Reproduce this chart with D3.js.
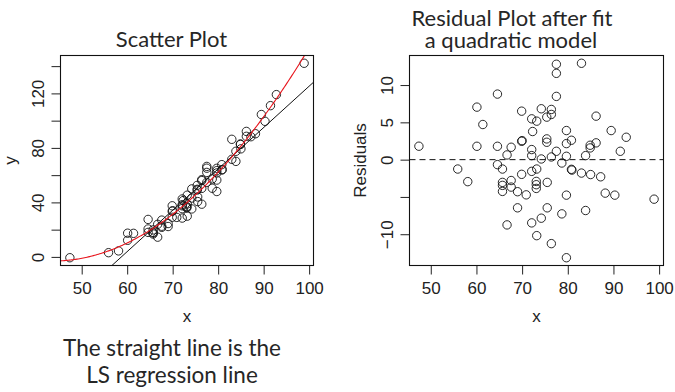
<!DOCTYPE html>
<html>
<head>
<meta charset="utf-8">
<script src="https://cdn.jsdelivr.net/npm/d3@7"></script>
<style>
  body { margin: 0; background: #fff; }
  .tick text { font-family: "Liberation Sans", Arial, sans-serif; fill: #222; }
  .tex { font-family: Lato, "Open Sans", sans-serif; fill: #262626; }
</style>
</head>
<body>
<div id="chart"></div>
<script>
// x values (shared by both panels)
const xVals = [47.4, 55.9, 58.1, 60.1, 60.1, 61.4, 64.6, 64.6, 64.6, 65.7,
               65.7, 65.7, 65.7, 66.7, 66.7, 67.6, 67.6, 67.6, 69.0, 69.0,
               69.9, 69.9, 70.0, 69.9, 70.9, 72.1, 72.3, 72.1, 72.1, 72.1,
               72.1, 73.2, 73.2, 73.1, 73.1, 73.1, 73.2, 74.2, 74.2, 74.2,
               75.4, 75.4, 75.4, 75.5, 75.5, 76.4, 76.4, 76.4, 76.4, 77.5,
               77.5, 77.5, 77.5, 78.7, 78.7, 79.7, 79.7, 79.7, 79.7, 79.7,
               80.8, 80.8, 80.9, 83.0, 83.0, 83.9, 83.9, 84.9, 84.9, 85.0,
               86.2, 86.2, 87.2, 88.2, 89.5, 90.3, 91.5, 92.8, 98.9];

// y values (scatter plot)
const yVals = [-0.6, 3.1, 4.4, 17.4, 12.2, 17.3, 27.5, 20.5, 18.0, 19.8,
               18.0, 17.6, 16.8, 23.9, 14.5, 27.0, 22.5, 21.7, 24.5, 22.3,
               37.5, 33.5, 33.9, 29.1, 29.0, 42.5, 41.3, 38.3, 37.5, 35.4,
               28.5, 45.3, 38.9, 36.9, 36.5, 36.0, 29.9, 49.9, 43.2, 35.2,
               52.5, 49.6, 49.1, 44.0, 40.6, 56.7, 56.0, 50.3, 38.7, 66.4,
               65.1, 62.0, 54.7, 57.2, 50.4, 65.0, 63.3, 61.6, 56.4, 48.0,
               67.7, 63.8, 64.1, 86.3, 71.6, 77.5, 70.1, 82.9, 82.5, 79.3,
               92.1, 88.5, 88.2, 90.4, 104.5, 99.5, 111.0, 119.1, 142.1];

// residuals after the quadratic fit
const residVals = [1.8, -1.26, -2.95, 7.04, 1.79, 4.71, 8.79, 1.79, -0.67, -1.26,
                   -3.05, -3.45, -4.26, 0.63, -8.75, 1.66, -2.8, -3.68, -4.3, -6.46,
                   6.5, 2.46, 2.55, -1.97, -4.72, 5.47, 3.77, 1.35, 0.54, -1.57,
                   -8.48, 5.16, -1.26, -2.92, -3.36, -3.86, -10.19, 6.82, 0.09, -7.85,
                   5.7, 2.78, 2.33, -3.05, -6.46, 6.73, 6.06, 0.36, -11.26, 12.79,
                   11.57, 8.48, 1.12, -0.45, -7.27, 3.9, 2.15, 0.45, -4.76, -13.15,
                   2.6, -1.3, -1.4, 12.92, -1.8, 0.54, -6.82, 1.93, 1.57, -2.0,
                   5.83, 2.25, -2.3, -4.49, 3.9, -4.76, 1.12, 3.0, -5.3];

const xTicks = [50, 60, 70, 80, 90, 100];
const yTicks = [0, 20, 40, 60, 80, 100, 120, 140];
const yTickLabels = [0, 40, 80, 120];
const rTicks = [-10, -5, 0, 5, 10];
const rTickLabels = [-10, 0, 5, 10];

const W = 675, H = 392;
const plotTop = 55.5, plotBottom = 265.5;
const leftBox = {x0: 60.5, x1: 313.5};
const rightBox = {x0: 409.5, x1: 663.5};

const svg = d3.select("#chart").append("svg")
    .attr("width", W)
    .attr("height", H);

// R style axis range: data extent padded by 4%
function pad(ext) {
    const d = (ext[1] - ext[0]) * 0.04;
    return [ext[0] - d, ext[1] + d];
}

const data = xVals.map((x, i) => ({x: x, y: yVals[i], r: residVals[i]}));

// least squares straight line
function lsLine(xs, ys) {
    const mx = d3.mean(xs), my = d3.mean(ys);
    const sxy = d3.sum(xs, (x, i) => (x - mx) * (ys[i] - my));
    const sxx = d3.sum(xs, x => (x - mx) * (x - mx));
    const b = sxy / sxx;
    return x => my + b * (x - mx);
}

// least squares quadratic, solved with gaussian elimination
function lsQuad(xs, ys) {
    const m = d3.mean(xs);
    const S = [0, 0, 0, 0, 0], T = [0, 0, 0];
    xs.forEach((x, i) => {
        const u = x - m;
        for (let k = 0; k < 5; k++) S[k] += Math.pow(u, k);
        for (let k = 0; k < 3; k++) T[k] += ys[i] * Math.pow(u, k);
    });
    const A = [[S[0], S[1], S[2], T[0]],
               [S[1], S[2], S[3], T[1]],
               [S[2], S[3], S[4], T[2]]];
    for (let c = 0; c < 3; c++) {
        for (let r = c + 1; r < 3; r++) {
            const f = A[r][c] / A[c][c];
            for (let k = c; k < 4; k++) A[r][k] -= f * A[c][k];
        }
    }
    const coef = [0, 0, 0];
    for (let r = 2; r >= 0; r--) {
        let s = A[r][3];
        for (let k = r + 1; k < 3; k++) s -= A[r][k] * coef[k];
        coef[r] = s / A[r][r];
    }
    return x => coef[0] + coef[1] * (x - m) + coef[2] * (x - m) * (x - m);
}

function drawAxes(g, x, y, box, yt, ytLabels, fmt) {
    const xa = g.append("g")
        .attr("transform", "translate(0," + plotBottom + ")")
        .call(d3.axisBottom(x).tickValues(xTicks).tickSize(9).tickPadding(7).tickSizeOuter(0));
    xa.select(".domain").remove();
    xa.selectAll("text").style("font-size", "17px");

    const ya = g.append("g")
        .attr("transform", "translate(" + box.x0 + ",0)")
        .call(d3.axisLeft(y).tickValues(yt).tickSize(9).tickSizeOuter(0)
            .tickFormat(d => ytLabels.indexOf(d) >= 0 ? fmt(d) : ""));
    ya.select(".domain").remove();
    ya.selectAll("text")
        .style("font-size", "17px")
        .attr("text-anchor", "middle")
        .attr("transform", "rotate(-90)")
        .attr("x", 0)
        .attr("y", -17)
        .attr("dy", 0);
    g.selectAll(".tick line").attr("stroke", "#222");

    g.append("rect")
        .attr("x", box.x0).attr("y", plotTop)
        .attr("width", box.x1 - box.x0).attr("height", plotBottom - plotTop)
        .attr("fill", "none").attr("stroke", "#111").attr("stroke-width", 1.1);
}

// two line text block as one element
function twoLines(g, cx, y0, gap, size, lines) {
    const t = g.append("text")
        .attr("class", "tex")
        .attr("text-anchor", "middle")
        .style("font-size", size);
    lines.forEach((s, i) => {
        t.append("tspan")
            .attr("x", cx[i])
            .attr("y", y0 + i * gap)
            .text(s);
    });
}

const fmtNum = d => d < 0 ? "\u2212" + Math.abs(d) : String(d);

// ---- left panel: scatter plot ----
const x1 = d3.scaleLinear().domain(pad(d3.extent(xVals))).range([leftBox.x0, leftBox.x1]);
const y1 = d3.scaleLinear().domain(pad(d3.extent(yVals))).range([plotBottom, plotTop]);

const left = svg.append("g");
left.append("clipPath").attr("id", "clipL").append("rect")
    .attr("x", leftBox.x0).attr("y", plotTop)
    .attr("width", leftBox.x1 - leftBox.x0).attr("height", plotBottom - plotTop);

left.selectAll("circle.pt")
    .data(data)
    .enter()
    .append("circle")
    .attr("class", "pt")
    .attr("cx", d => x1(d.x))
    .attr("cy", d => y1(d.y))
    .attr("r", 4.2)
    .attr("fill", "none")
    .attr("stroke", "#111")
    .attr("stroke-width", 0.9);

const lineFn = lsLine(xVals, yVals);
const quadFn = lsQuad(xVals, yVals);
const xs = d3.range(0, 201).map(i => x1.domain()[0] + i * (x1.domain()[1] - x1.domain()[0]) / 200);

left.append("path")
    .datum(x1.domain())
    .attr("clip-path", "url(#clipL)")
    .attr("d", d3.line().x(d => x1(d)).y(d => y1(lineFn(d))))
    .attr("fill", "none")
    .attr("stroke", "#111")
    .attr("stroke-width", 1);

left.append("path")
    .datum(xs)
    .attr("clip-path", "url(#clipL)")
    .attr("d", d3.line().x(d => x1(d)).y(d => y1(quadFn(d))))
    .attr("fill", "none")
    .attr("stroke", "#e8141c")
    .attr("stroke-width", 1.1);

drawAxes(left, x1, y1, leftBox, yTicks, yTickLabels, fmtNum);

left.append("text")
    .attr("class", "tex")
    .attr("x", 171.5).attr("y", 47.3)
    .attr("text-anchor", "middle")
    .style("font-size", "22px")
    .text("Scatter Plot");

left.append("text")
    .attr("x", (leftBox.x0 + leftBox.x1) / 2).attr("y", 321.5)
    .attr("text-anchor", "middle")
    .style("font-family", "Liberation Sans, Arial, sans-serif")
    .style("font-size", "17px").style("fill", "#222")
    .text("x");

left.append("text")
    .attr("transform", "translate(15.5," + (plotTop + plotBottom) / 2 + ") rotate(-90)")
    .attr("text-anchor", "middle")
    .style("font-family", "Liberation Sans, Arial, sans-serif")
    .style("font-size", "17px").style("fill", "#222")
    .text("y");

twoLines(left, [172, 172], 356, 27, "22.5px",
    ["The straight line is the", "LS regression line"]);

// ---- right panel: residual plot ----
const x2 = d3.scaleLinear().domain(pad(d3.extent(xVals))).range([rightBox.x0, rightBox.x1]);
const y2 = d3.scaleLinear().domain(pad(d3.extent(residVals))).range([plotBottom, plotTop]);

const right = svg.append("g");

right.append("line")
    .attr("x1", rightBox.x0).attr("x2", rightBox.x1)
    .attr("y1", y2(0)).attr("y2", y2(0))
    .attr("stroke", "#111")
    .attr("stroke-width", 1)
    .attr("stroke-dasharray", "6,4");

right.selectAll("circle.pt")
    .data(data)
    .enter()
    .append("circle")
    .attr("class", "pt")
    .attr("cx", d => x2(d.x))
    .attr("cy", d => y2(d.r))
    .attr("r", 4.2)
    .attr("fill", "none")
    .attr("stroke", "#111")
    .attr("stroke-width", 0.9);

drawAxes(right, x2, y2, rightBox, rTicks, rTickLabels, fmtNum);

twoLines(right, [512, 511], 26.2, 22, "22px",
    ["Residual Plot after fit", "a quadratic model"]);

right.append("text")
    .attr("x", (rightBox.x0 + rightBox.x1) / 2).attr("y", 321.5)
    .attr("text-anchor", "middle")
    .style("font-family", "Liberation Sans, Arial, sans-serif")
    .style("font-size", "17px").style("fill", "#222")
    .text("x");

right.append("text")
    .attr("transform", "translate(366," + (plotTop + plotBottom) / 2 + ") rotate(-90)")
    .attr("text-anchor", "middle")
    .style("font-family", "Liberation Sans, Arial, sans-serif")
    .style("font-size", "17px").style("fill", "#222")
    .text("Residuals");
</script>
</body>
</html>
